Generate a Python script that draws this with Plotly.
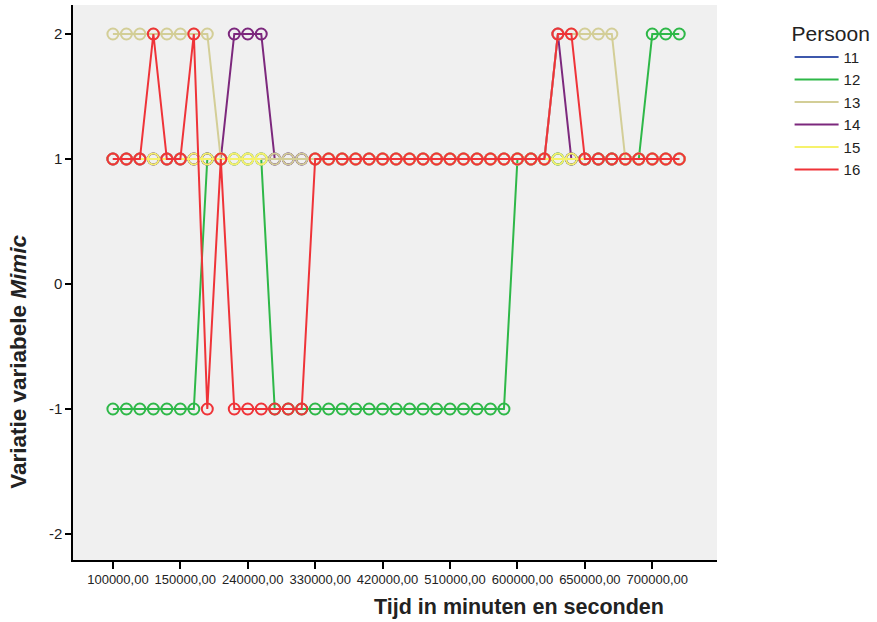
import plotly.graph_objects as go

# Time categories (minutes/seconds codes)
categories = [
    "100000,00", "110000,00", "120000,00", "130000,00", "140000,00",
    "150000,00", "200000,00", "210000,00", "220000,00", "230000,00",
    "240000,00", "250000,00", "300000,00", "310000,00", "320000,00",
    "330000,00", "340000,00", "350000,00", "400000,00", "410000,00",
    "420000,00", "430000,00", "440000,00", "450000,00", "500000,00",
    "510000,00", "520000,00", "530000,00", "540000,00", "550000,00",
    "600000,00", "610000,00", "620000,00", "630000,00", "640000,00",
    "650000,00", "652000,00", "654000,00", "656000,00", "658000,00",
    "700000,00", "710000,00", "720000,00",
]

tick_labels = ["100000,00", "150000,00", "240000,00", "330000,00", "420000,00",
               "510000,00", "600000,00", "650000,00", "700000,00"]
y_ticks = [-2, -1, 0, 1, 2]
y_tick_text = ["-2", "-1", "0", "1", "2"]

persons = ["11", "12", "13", "14", "15", "16"]
colors = {"11": "#3E58AC", "12": "#2EB848", "13": "#D3CE97",
          "14": "#7C287D", "15": "#F6F26C", "16": "#EF3338"}

p11 = [1, 1, 1, 1, 1, 1, 1, 1, 1, 1, 1, 1, 1, 1, 1, 1, 1, 1, 1, 1, 1, 1,
       1, 1, 1, 1, 1, 1, 1, 1, 1, 1, 1, 1, 1, 1, 1, 1, 1, 1, 1, 1, 1]
p12 = [-1, -1, -1, -1, -1, -1, -1, 1, 1, 1, 1, 1, -1, -1, -1, -1, -1, -1,
       -1, -1, -1, -1, -1, -1, -1, -1, -1, -1, -1, -1, 1, 1, 1, 1, 1, 1, 1,
       1, 1, 1, 2, 2, 2]
p13 = [2, 2, 2, 2, 2, 2, 2, 2, 1, 1, 1, 1, 1, 1, 1, 1, 1, 1, 1, 1, 1, 1,
       1, 1, 1, 1, 1, 1, 1, 1, 1, 1, 1, 2, 2, 2, 2, 2, 1, 1, 1, 1, 1]
p14 = [1, 1, 1, 1, 1, 1, 1, 1, 1, 2, 2, 2, 1, 1, 1, 1, 1, 1, 1, 1, 1, 1,
       1, 1, 1, 1, 1, 1, 1, 1, 1, 1, 1, 2, 1, 1, 1, 1, 1, 1, 1, 1, 1]
p15 = [1, 1, 1, 1, 1, 1, 1, 1, 1, 1, 1, 1, None, None, None, 1, 1, 1, 1, 1,
       1, 1, 1, 1, 1, 1, 1, 1, 1, 1, 1, 1, 1, 1, 1, 1, 1, 1, 1, 1, 1, 1, 1]
p16 = [1, 1, 1, 2, 1, 1, 2, -1, 1, -1, -1, -1, -1, -1, -1, 1, 1, 1, 1, 1,
       1, 1, 1, 1, 1, 1, 1, 1, 1, 1, 1, 1, 1, 2, 2, 1, 1, 1, 1, 1, 1, 1, 1]

series = {"11": p11, "12": p12, "13": p13, "14": p14, "15": p15, "16": p16}
draw_order = ["11", "12", "14", "13", "15", "16"]

FONT = "Arial, Liberation Sans, sans-serif"
TXT = "#222222"

fig = go.Figure()
for p in draw_order:
    fig.add_trace(go.Scatter(
        x=categories, y=series[p], mode="lines+markers", name=p,
        showlegend=False, connectgaps=False,
        line=dict(color=colors[p], width=2),
        marker=dict(symbol="circle-open", size=11, color=colors[p],
                    line=dict(width=2, color=colors[p])),
        hoverinfo="x+y+name",
    ))
for p in persons:
    fig.add_trace(go.Scatter(
        x=[None], y=[None], mode="lines", name=p,
        line=dict(color=colors[p], width=2), showlegend=True,
    ))

fig.update_layout(
    width=877, height=622,
    margin=dict(l=73, r=159, t=5, b=62),
    paper_bgcolor="white", plot_bgcolor="#F0F0F0",
    font=dict(family=FONT, color=TXT),
    legend=dict(
        title=dict(text="Persoon", font=dict(size=21, family=FONT, color=TXT)),
        font=dict(size=15, family=FONT, color=TXT),
        x=1.111, y=0.985, xanchor="left", yanchor="top",
        itemwidth=44,
        bgcolor="rgba(0,0,0,0)", tracegroupgap=0,
    ),
    annotations=[
        dict(text="<b>Variatie variabele <i>Mimic</i></b>", textangle=-90,
             xref="paper", yref="paper", x=-0.084, y=0.357,
             xanchor="center", yanchor="middle",
             showarrow=False, font=dict(size=22.5, family=FONT, color=TXT)),
        dict(text="<b>Tijd in minuten en seconden</b>",
             xref="paper", yref="paper", x=0.693, y=-0.085,
             xanchor="center", yanchor="middle",
             showarrow=False, font=dict(size=21.5, family=FONT, color=TXT)),
    ],
)
fig.update_xaxes(
    type="category", categoryorder="array", categoryarray=categories,
    tickmode="array", tickvals=tick_labels, ticktext=tick_labels,
    range=[-2.96, 44.8], showgrid=False, zeroline=False,
    showline=True, linecolor="black", linewidth=1.5,
    ticks="outside", ticklen=7, tickwidth=1.5, tickcolor="black",
    ticklabelshift=5,
    tickfont=dict(size=13, family=FONT, color=TXT),
)
fig.update_yaxes(
    range=[-2.208, 2.232], tickmode="array", tickvals=y_ticks, ticktext=y_tick_text,
    showgrid=False, zeroline=False,
    showline=True, linecolor="black", linewidth=1.5,
    ticks="outside", ticklen=6, tickwidth=1.5, tickcolor="black",
    tickfont=dict(size=15, family=FONT, color=TXT),
)

fig.write_html("out.html", config={"displayModeBar": False},
               post_script="document.body.style.margin='0';")
